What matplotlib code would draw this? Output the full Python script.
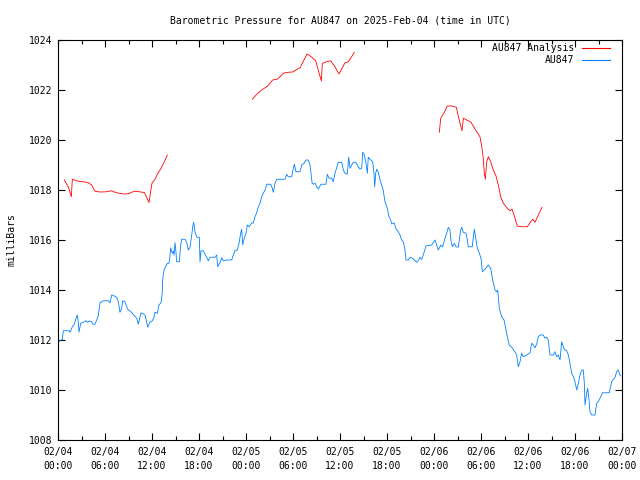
import numpy as np
import matplotlib
matplotlib.use("Agg")
import matplotlib.pyplot as plt
from matplotlib.ticker import MultipleLocator

# ---- data (hours since 2025-02-04 00:00 UTC, pressure in mbar) ----
obs_hours = [0.0, 0.55, 0.68, 1.40, 1.53, 1.83, 2.08, 2.26, 2.46, 2.59, 2.68, 2.90, 3.23, 3.57, 3.79, 4.00,
             4.30, 4.43, 4.72, 4.94, 5.14, 5.36, 5.78, 6.42, 6.64, 6.86, 7.19, 7.49, 7.70, 7.83, 7.91, 8.13,
             8.26, 8.55, 8.77, 8.97, 9.23, 9.49, 9.74, 10.05, 10.25, 10.47, 10.60, 10.89, 11.11, 11.32, 11.45,
             11.74, 12.04, 12.26, 12.38, 12.68, 12.89, 13.15, 13.31, 13.36, 13.53, 13.75, 13.95, 14.17, 14.30,
             14.39, 14.59, 14.72, 14.81, 14.94, 15.03, 15.15, 15.49, 15.66, 15.79, 16.21, 16.43, 16.63, 16.85,
             17.07, 17.20, 17.32, 17.49, 17.71, 18.04, 18.13, 18.26, 18.55, 18.77, 18.98, 19.19, 19.40, 20.04,
             20.26, 20.39, 20.68, 20.90, 21.10, 21.45, 22.17, 22.38, 22.60, 22.89, 23.11, 23.32, 23.45, 23.58,
             23.74, 24.00, 24.17, 24.42, 24.73, 24.93, 25.15, 25.36, 25.57, 25.79, 26.00, 26.21, 26.43, 26.64,
             27.15, 27.36, 27.49, 27.70, 27.92, 28.98, 29.20, 29.40, 29.83, 30.04, 30.17, 30.38, 30.89, 31.11,
             31.40, 31.66, 31.95, 32.17, 32.30, 32.43, 32.59, 32.81, 33.03, 33.23, 33.57, 34.21, 34.38, 34.60,
             34.94, 35.14, 35.36, 35.53, 35.78, 36.22, 36.42, 36.64, 36.93, 37.11, 37.28, 37.49, 37.70, 38.00,
             38.34, 38.55, 38.77, 38.90, 39.10, 39.32, 39.49, 39.61, 39.83, 40.17, 40.34, 40.43, 40.56, 40.68,
             40.89, 41.11, 41.32, 41.53, 41.74, 42.04, 42.26, 42.47, 42.60, 42.93, 43.11, 43.44, 43.66, 43.87,
             44.08, 44.30, 44.43, 44.72, 44.94, 45.28, 45.57, 45.87, 46.21, 46.43, 46.63, 46.98, 47.70, 48.13,
             48.34, 48.55, 48.86, 49.11, 49.40, 49.62, 49.83, 50.04, 50.17, 50.34, 50.59, 50.81, 51.10, 51.23,
             51.41, 51.54, 51.74, 52.09, 52.30, 52.38, 52.89, 53.02, 53.15, 53.36, 53.53, 53.78, 54.00, 54.17,
             54.51, 54.93, 55.24, 55.49, 55.79, 56.00, 56.13, 56.34, 56.64, 56.94, 57.19, 57.36, 57.61, 57.92,
             58.25, 58.56, 58.76, 58.98, 59.19, 59.40, 59.83, 60.26, 60.47, 60.68, 60.89, 61.11, 61.31, 61.53,
             61.95, 62.17, 62.38, 62.59, 62.81, 63.23, 63.45, 63.66, 63.87, 64.09, 64.30, 64.51, 64.72, 64.94,
             65.15, 65.36, 65.58, 65.79, 66.00, 66.22, 66.43, 66.64, 66.86, 67.06, 67.19, 67.28, 67.49, 67.62,
             67.79, 67.91, 68.13, 68.55, 68.77, 68.97, 69.19, 69.53, 70.38, 70.68, 70.89, 71.11, 71.32, 71.53,
             71.74, 71.87]
obs_pressure = [1011.92, 1012.03, 1012.37, 1012.37, 1012.31, 1012.53, 1012.63, 1012.83, 1013.00, 1012.73,
                1012.31, 1012.67, 1012.71, 1012.77, 1012.71, 1012.76, 1012.73, 1012.63, 1012.63, 1012.80,
                1012.96, 1013.49, 1013.57, 1013.57, 1013.49, 1013.80, 1013.76, 1013.71, 1013.53, 1013.27,
                1013.11, 1013.27, 1013.57, 1013.53, 1013.33, 1013.20, 1013.16, 1013.07, 1012.97, 1012.87,
                1012.63, 1012.93, 1013.09, 1013.04, 1013.00, 1012.71, 1012.51, 1012.71, 1012.77, 1012.91,
                1013.11, 1013.07, 1013.40, 1013.49, 1013.90, 1014.40, 1014.80, 1014.93, 1015.07, 1015.07,
                1015.40, 1015.69, 1015.47, 1015.56, 1015.40, 1015.89, 1015.63, 1015.13, 1015.13, 1015.80,
                1016.03, 1016.03, 1015.91, 1015.60, 1015.71, 1016.20, 1016.53, 1016.71, 1016.33, 1016.11,
                1016.11, 1015.13, 1015.57, 1015.57, 1015.43, 1015.29, 1015.17, 1015.31, 1015.31, 1015.40,
                1014.93, 1015.09, 1015.29, 1015.16, 1015.20, 1015.20, 1015.40, 1015.57, 1015.60, 1015.87,
                1016.27, 1016.43, 1015.80, 1016.03, 1016.27, 1016.60, 1016.53, 1016.69, 1016.67, 1016.93,
                1017.09, 1017.33, 1017.47, 1017.73, 1017.87, 1018.00, 1018.23, 1018.23, 1018.07, 1017.91,
                1018.27, 1018.43, 1018.43, 1018.63, 1018.53, 1018.53, 1018.87, 1019.03, 1018.73, 1018.73,
                1019.00, 1019.07, 1019.20, 1019.20, 1019.00, 1018.67, 1018.29, 1018.23, 1018.27, 1018.13,
                1018.04, 1018.23, 1018.23, 1018.63, 1018.47, 1018.47, 1018.33, 1018.67, 1018.84, 1019.11,
                1019.11, 1018.80, 1018.67, 1018.63, 1019.31, 1018.87, 1019.00, 1019.11, 1019.11, 1018.93,
                1018.84, 1018.87, 1019.51, 1019.40, 1019.07, 1018.67, 1019.31, 1019.23, 1019.13, 1018.67,
                1018.13, 1018.67, 1018.83, 1018.71, 1018.40, 1018.20, 1017.97, 1017.53, 1017.27, 1016.93,
                1016.80, 1016.64, 1016.69, 1016.47, 1016.33, 1016.20, 1016.00, 1015.93, 1015.60, 1015.20,
                1015.20, 1015.31, 1015.27, 1015.17, 1015.11, 1015.31, 1015.22, 1015.40, 1015.76, 1015.80,
                1016.00, 1015.80, 1015.60, 1015.80, 1015.73, 1016.07, 1016.27, 1016.51, 1016.40, 1015.97,
                1015.73, 1015.87, 1015.73, 1015.71, 1016.00, 1016.40, 1016.51, 1016.31, 1016.27, 1015.93,
                1015.73, 1015.73, 1016.13, 1016.43, 1016.00, 1015.67, 1015.47, 1015.27, 1014.73, 1014.83,
                1015.00, 1014.87, 1014.40, 1014.00, 1013.93, 1014.00, 1013.27, 1012.93, 1012.80, 1012.40,
                1012.13, 1011.80, 1011.71, 1011.56, 1011.40, 1010.93, 1011.13, 1011.47, 1011.33, 1011.40,
                1011.49, 1011.87, 1011.80, 1011.69, 1011.84, 1012.13, 1012.20, 1012.20, 1012.07, 1012.11,
                1012.00, 1011.40, 1011.40, 1011.53, 1011.33, 1011.40, 1011.20, 1011.93, 1011.73, 1011.60,
                1011.57, 1011.40, 1011.07, 1010.67, 1010.53, 1010.33, 1010.00, 1010.27, 1010.60, 1010.80,
                1010.80, 1010.27, 1009.40, 1009.87, 1010.07, 1009.60, 1009.13, 1009.00, 1009.00, 1009.47,
                1009.53, 1009.67, 1009.89, 1009.89, 1010.33, 1010.43, 1010.51, 1010.73, 1010.80, 1010.60,
                1010.56]

ana1_hours = [0.80, 1.31, 1.70, 1.83, 2.59, 3.23, 3.87, 4.30, 4.72, 5.36, 6.22, 6.77, 7.49, 8.34, 8.97,
              9.74, 10.34, 11.02, 11.62, 11.87, 12.00, 12.38, 12.80, 13.10, 13.53, 13.95]
ana1_pressure = [1018.40, 1018.13, 1017.73, 1018.43, 1018.35, 1018.33, 1018.29, 1018.20, 1017.95, 1017.92,
                 1017.93, 1017.97, 1017.89, 1017.84, 1017.85, 1017.95, 1017.93, 1017.90, 1017.50, 1018.03,
                 1018.27, 1018.43, 1018.70, 1018.83, 1019.10, 1019.40]
ana2_hours = [24.80, 25.37, 26.00, 26.77, 27.40, 28.05, 28.77, 29.40, 29.96, 30.35, 30.90, 31.24, 31.79,
              32.39, 32.90, 33.28, 33.62, 33.75, 34.30, 34.80, 35.36, 35.87, 36.64, 37.06, 37.83]
ana2_pressure = [1021.63, 1021.83, 1022.00, 1022.16, 1022.40, 1022.44, 1022.67, 1022.71, 1022.72, 1022.80,
                 1022.89, 1023.10, 1023.44, 1023.31, 1023.17, 1022.73, 1022.36, 1023.07, 1023.13, 1023.17,
                 1022.93, 1022.64, 1023.09, 1023.13, 1023.50]
ana3_hours = [48.68, 48.86, 49.11, 49.40, 49.70, 50.26, 50.85, 51.07, 51.32, 51.58, 51.75, 52.17, 52.72,
              53.10, 53.45, 53.87, 54.13, 54.29, 54.42, 54.55, 54.73, 54.94, 55.24, 55.57, 55.92, 56.26,
              56.51, 56.85, 57.36, 57.70, 57.96, 58.21, 58.64, 59.20, 59.91, 60.26, 60.60, 60.90, 61.32, 61.79]
ana3_pressure = [1020.31, 1020.87, 1021.00, 1021.16, 1021.36, 1021.36, 1021.31, 1021.00, 1020.67, 1020.37,
                 1020.87, 1020.80, 1020.71, 1020.51, 1020.33, 1020.13, 1019.67, 1019.27, 1018.67, 1018.43,
                 1019.13, 1019.33, 1019.13, 1018.80, 1018.56, 1018.13, 1017.73, 1017.47, 1017.27, 1017.17,
                 1017.23, 1017.00, 1016.56, 1016.53, 1016.53, 1016.69, 1016.83, 1016.71, 1017.00, 1017.31]

xtick_hours = [0, 6, 12, 18, 24, 30, 36, 42, 48, 54, 60, 66, 72]
xtick_labels = ["02/04\n00:00", "02/04\n06:00", "02/04\n12:00", "02/04\n18:00",
                "02/05\n00:00", "02/05\n06:00", "02/05\n12:00", "02/05\n18:00",
                "02/06\n00:00", "02/06\n06:00", "02/06\n12:00", "02/06\n18:00",
                "02/07\n00:00"]
ytick_values = [1008, 1010, 1012, 1014, 1016, 1018, 1020, 1022, 1024]

title = "Barometric Pressure for AU847 on 2025-Feb-04 (time in UTC)"

# ---- plotting ----
plt.rcParams['font.family'] = ['DejaVu Sans Mono']
FS = 7

fig = plt.figure(figsize=(6.4, 4.8), dpi=100)
ax = fig.add_axes([58/640, 40/480, 564/640, 400/480])

ana_hours = ana1_hours + [np.nan] + ana2_hours + [np.nan] + ana3_hours
ana_pressure = ana1_pressure + [np.nan] + ana2_pressure + [np.nan] + ana3_pressure

l_obs, = ax.plot(obs_hours, obs_pressure, color='#0080ff', lw=0.6, label='AU847')
l_ana, = ax.plot(ana_hours, ana_pressure, color='#ff0000', lw=0.6, label='AU847 Analysis')

ax.set_xlim(0, 72)
ax.set_ylim(1008, 1024)
ax.set_xticks(xtick_hours)
ax.set_xticklabels(xtick_labels, fontsize=FS, linespacing=1.45)
ax.xaxis.set_minor_locator(MultipleLocator(3))
ax.set_yticks(ytick_values)
ax.set_yticklabels([str(v) for v in ytick_values], fontsize=FS)

ax.tick_params(axis='both', which='both', direction='in', top=True, right=True, width=0.8)
ax.tick_params(axis='both', which='major', length=5)
ax.tick_params(axis='both', which='minor', length=3)
ax.tick_params(axis='x', which='major', pad=5)
ax.tick_params(axis='y', which='major', pad=4)
for s in ax.spines.values():
    s.set_linewidth(0.8)

ax.set_title(title, fontsize=FS, pad=12)
ax.set_ylabel('milliBars', fontsize=FS, labelpad=9)

leg = ax.legend([l_ana, l_obs], ['AU847 Analysis', 'AU847'], loc='upper right', frameon=False,
                markerfirst=False, fontsize=FS, handlelength=2.9, handletextpad=0.8,
                labelspacing=0.25, borderaxespad=0.0, borderpad=0.2,
                bbox_to_anchor=(1 - 10/564, 1 - 1/400))
for lh in leg.get_lines():
    lh.set_linewidth(0.8)

fig.savefig('out.png', dpi=100)
